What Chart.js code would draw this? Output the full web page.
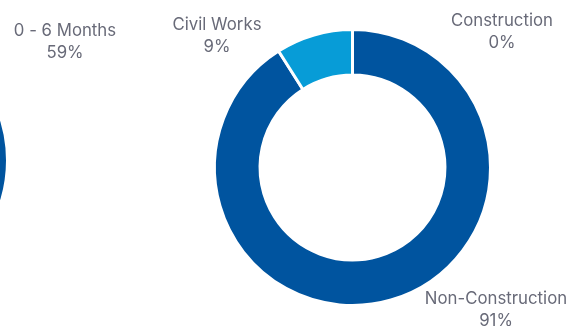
<!DOCTYPE html>
<html>
<head>
<meta charset="utf-8">
<script src="https://cdn.jsdelivr.net/npm/chart.js@4"></script>
<style>
    html, body { margin: 0; padding: 0; background: #ffffff; }
    body { width: 585px; height: 327px; position: relative; overflow: hidden; }
    #leftChart { position: absolute; left: -300px; top: 0; }
    #rightChart { position: absolute; left: 0; top: 0; }
</style>
</head>
<body>
<canvas id="leftChart" width="500" height="327"></canvas>
<canvas id="rightChart" width="585" height="327"></canvas>
<script>
// ==================== Data ====================
const leftCategories = ['0 - 6 Months', '> 6 Months'];
const leftValues = [59, 41];

const rightCategories = ['Construction', 'Non-Construction', 'Civil Works'];
const rightValues = [0, 91, 9];

const DARK_BLUE = '#00549f';
const LIGHT_BLUE = '#079cd7';
const TEXT_COLOR = '#686a78';
const FONT = '16.8px Inter, "Open Sans", sans-serif';

// label anchors (canvas px) per slice, Excel-style outside labels
const leftLabelPos = [[365, 31], [-200, 300]];
const rightLabelPos = [[502, 20.5], [496, 298.5], [217, 24.5]];

// draws "Name / NN%" two-line labels
const outsideLabels = {
    id: 'outsideLabels',
    afterDatasetsDraw(chart, args, opts) {
        const ctx = chart.ctx;
        const data = chart.data.datasets[0].data;
        const total = data.reduce((s, v) => s + v, 0);
        ctx.save();
        ctx.font = FONT;
        ctx.fillStyle = TEXT_COLOR;
        ctx.textAlign = 'center';
        ctx.textBaseline = 'middle';
        chart.data.labels.forEach((lbl, i) => {
            const pos = opts.positions[i];
            if (!pos) return;
            const pct = total > 0 ? Math.round(data[i] / total * 100) : 0;
            ctx.fillText(lbl, pos[0], pos[1]);
            ctx.fillText(pct + '%', pos[0], pos[1] + 22);
        });
        ctx.restore();
    }
};

function makeDonut(id, labels, values, colors, padding, positions) {
    return new Chart(document.getElementById(id), {
        type: 'doughnut',
        data: {
            labels,
            datasets: [{
                data: values,
                backgroundColor: colors,
                borderColor: '#ffffff',
                borderWidth: 3
            }]
        },
        options: {
            responsive: false,
            animation: false,
            cutout: '67%',
            layout: { padding },
            plugins: {
                legend: { display: false },
                tooltip: { enabled: false },
                outsideLabels: { positions }
            }
        },
        plugins: [outsideLabels]
    });
}

makeDonut('leftChart', leftCategories, leftValues, [DARK_BLUE, LIGHT_BLUE],
    { left: 30, right: 191, top: 21, bottom: 27 }, leftLabelPos);

makeDonut('rightChart', rightCategories, rightValues, ['#7fa7cf', DARK_BLUE, LIGHT_BLUE],
    { left: 213, right: 93, top: 28, bottom: 20 }, rightLabelPos);
</script>
</body>
</html>
